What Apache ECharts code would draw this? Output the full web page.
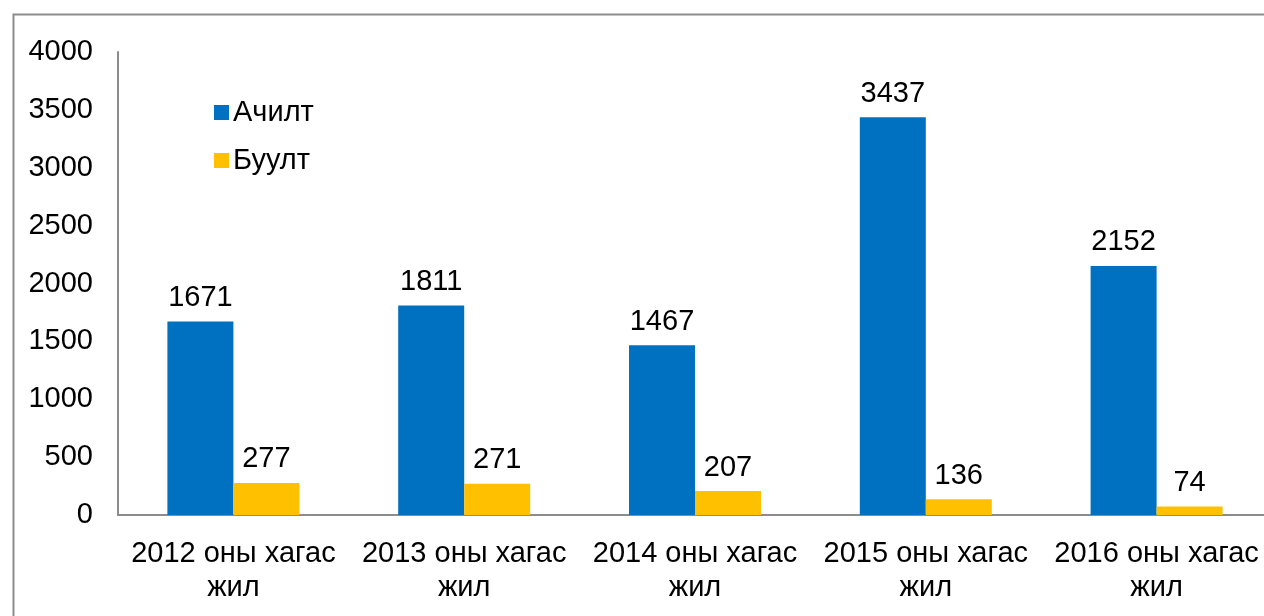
<!DOCTYPE html>
<html><head><meta charset="utf-8">
<script src="https://cdn.jsdelivr.net/npm/echarts@6/dist/echarts.min.js"></script>
<style>html,body{margin:0;padding:0;background:#fff;overflow:hidden}#c{width:1300px;height:616px}</style>
</head><body><div id="c"></div>
<script>
const categories = ['2012 оны хагас\nжил','2013 оны хагас\nжил','2014 оны хагас\nжил','2015 оны хагас\nжил','2016 оны хагас\nжил'];
const seriesNames = ['Ачилт','Буулт'];
const achilt = [1671,1811,1467,3437,2152];
const buult = [277,271,207,136,74];
const yTicks = [0,500,1000,1500,2000,2500,3000,3500,4000];

const font = 'Liberation Sans, Arial, sans-serif';
const fs = 29;
const chart = echarts.init(document.getElementById('c'), null, {renderer:'canvas'});
chart.setOption({
  animation:false,
  backgroundColor:'#fff',
  graphic:[{type:'rect',left:11,top:12,shape:{width:1400,height:800},style:{fill:'none',stroke:'#8c8c8c',lineWidth:2},z:-1}],
  grid:{left:118,top:52,width:1154,height:463,containLabel:false},
  legend:{orient:'vertical',left:209,top:93,itemWidth:15,itemHeight:15,itemGap:19,icon:'rect',
    textStyle:{fontFamily:font,fontSize:fs,color:'#000',padding:[0,0,0,-1]},data:seriesNames},
  xAxis:{type:'category',data:categories,
    axisLine:{lineStyle:{color:'#8c8c8c',width:2}},axisTick:{show:false},
    axisLabel:{fontFamily:font,fontSize:fs,color:'#000',lineHeight:34,margin:22,interval:0}},
  yAxis:{type:'value',min:yTicks[0],max:yTicks[yTicks.length-1],interval:500,
    axisLine:{show:true,lineStyle:{color:'#8c8c8c',width:2}},axisTick:{show:false},splitLine:{show:false},
    axisLabel:{fontFamily:font,fontSize:fs,color:'#000',margin:25,formatter:v=>String(v)}},
  series:[
    {name:seriesNames[0],type:'bar',data:achilt,barWidth:66,barGap:'0%',itemStyle:{color:'#0070C0'},
      label:{show:true,position:'top',distance:9,fontFamily:font,fontSize:fs,color:'#000'}},
    {name:seriesNames[1],type:'bar',data:buult,barWidth:66,barGap:'0%',itemStyle:{color:'#FFC000'},
      label:{show:true,position:'top',distance:9,fontFamily:font,fontSize:fs,color:'#000'}}
  ]
});
</script></body></html>
